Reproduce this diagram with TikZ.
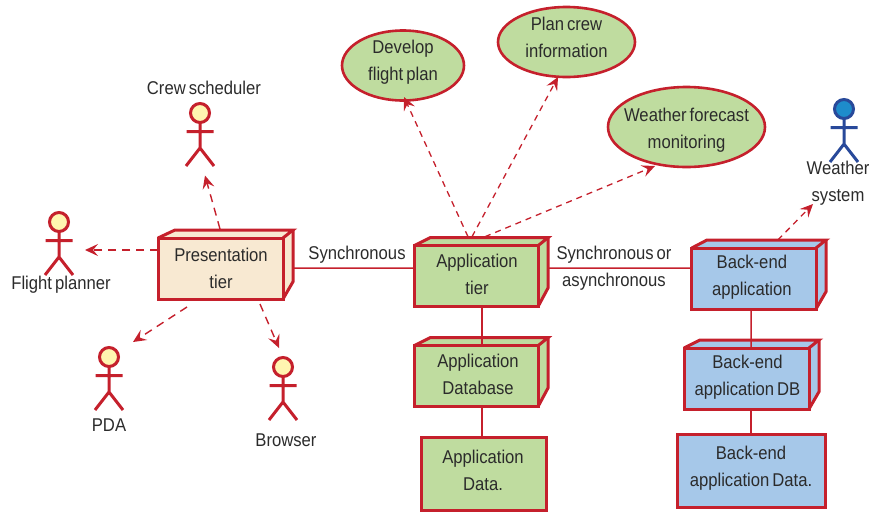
\documentclass[tikz,border=0pt]{standalone}
\usepackage{fontspec}
\setmainfont[FakeStretch=0.90,WordSpace=0.65]{Liberation Sans}
\usetikzlibrary{arrows.meta,shapes.geometric}
\definecolor{rd}{HTML}{C5202C}
\definecolor{cream}{HTML}{F8E9D2}
\definecolor{grn}{HTML}{BFDC9F}
\definecolor{blu}{HTML}{A6C8E9}
\definecolor{yel}{HTML}{FFF5B0}
\definecolor{hblue}{HTML}{1E8CCB}
\definecolor{lblue}{HTML}{28499A}
\definecolor{ink}{HTML}{2B2B2B}
\tikzset{
 lab/.style={font=\fontsize{18.5}{27}\selectfont,text=ink,align=center,inner sep=0pt},
 front/.style={draw=rd,line width=3pt,lab,anchor=north west,inner sep=0pt,outer sep=0pt,align=center},
 side/.style={draw=rd,line width=3pt,line join=miter},
 oval/.style={ellipse,draw=rd,line width=2.6pt,fill=grn,lab,inner sep=0pt,outer sep=0pt},
 dep/.style={draw=rd,line width=1.4pt,dash pattern=on 8pt off 6pt,-{Stealth[length=13pt,width=12pt,inset=5pt]}},
 depfine/.style={dep,line width=1.3pt,dash pattern=on 6pt off 5pt},
 link/.style={draw=rd,line width=1.5pt},
 head/.style={circle,draw=#1,line width=3pt,inner sep=0pt,outer sep=0pt,minimum size=19pt},
 limb/.style={draw=#1,line width=3pt}
}
% one line of a two-line label, zero-sized so that it can be placed exactly
\newcommand{\oneline}[3]{\raisebox{-#2pt}[0pt][0pt]{\makebox[0pt][c]{\hspace*{#1pt}#3}}}
% x offset (doubled), y offset, first line, second line
\newcommand{\twolines}[4]{\oneline{#1}{#2}{#3}\\\oneline{#1}{#2}{#4}}
% name, x1,y1,x2,topleftx,toprightx,side bottom y,colour,text
\newcommand{\tierbox}[9]{%
 \fill[#8] (#2,#3) -- (#5,{#3-8}) -- (#6,{#3-8}) -- (#6,#7) -- (#4,{#3+61}) -- cycle;
 \node[front,fill=#8,minimum width={(#4-#2)*1pt},minimum height=61pt] (#1) at (#2,#3) {#9};
 \draw[side] (#1.north west) -- (#5,{#3-8}) -- (#6,{#3-8}) -- (#1.north east);
 \draw[side] (#6,{#3-8}) -- (#6,#7) -- (#1.south east);
}
% name, head x, head y, fill, line
\newcommand{\stick}[5]{%
 \begin{scope}[shift={(#2,#3)}]
 \node[head=#5,fill=#4] (#1) at (0,0) {};
 \draw[limb=#5] (#1.south) -- (0,35) (-13.5,18.5) -- (13.5,18.5) (-14,53) -- (0,35) -- (14,53);
 \end{scope}
}
\begin{document}
\begin{tikzpicture}[x=1pt,y=-1pt]
\useasboundingbox (0,0) rectangle (883,512);
\tierbox{pres}{158}{238}{283}{175}{293}{281.7}{cream}{\twolines{1}{6.5}{Presentation}{tier}}
\tierbox{app}{414}{245.7}{538}{430}{548}{288}{grn}{\twolines{2}{4.8}{Application}{tier}}
\tierbox{adb}{414}{345.7}{538}{430}{548}{388}{grn}{\twolines{4}{4.8}{Application}{Database}}
\tierbox{be}{691.7}{248}{816}{707}{826}{291.7}{blu}{\twolines{-4}{3.5}{Back-end}{application}}
\tierbox{bdb}{684}{348}{809}{700}{819}{391.7}{blu}{\twolines{2}{3.5}{Back-end}{application DB}}
\node[front,fill=grn,minimum width=125pt,minimum height=73pt] (adata) at (421,437) {\twolines{-1}{3.5}{Application}{Data.}};
\node[front,fill=blu,minimum width=148pt,minimum height=73pt] (bdata) at (677,434) {\twolines{0}{2.5}{Back-end}{application Data.}};
\draw[link] ([shift={(10,-0.5)}]pres.east) -- ([shift={(0,-8)}]app.west);
\draw[link] ([shift={(10,-8)}]app.east) -- ([shift={(0,-10.5)}]be.west);
\draw[link] ([shift={(6,0)}]app.south) -- ([shift={(6,0)}]adb.north);
\draw[link] ([shift={(6,0)}]adb.south) -- ([shift={(-1.5,0)}]adata.north);
\draw[link] ([shift={(-2.85,0)}]be.south) -- ([shift={(4.5,0)}]bdb.north);
\draw[link] ([shift={(4.5,0)}]bdb.south) -- (bdata.north);
\node[oval,minimum width=122pt,minimum height=70pt] (dev) at (403,65.5) {\twolines{0}{1.5}{Develop}{flight plan}};
\node[oval,minimum width=137pt,minimum height=70pt] (crewinfo) at (566.5,42) {\twolines{0}{2}{Plan crew}{information}};
\node[oval,minimum width=157pt,minimum height=80pt] (wf) at (686.5,127) {\twolines{0}{8}{Weather forecast}{monitoring}};
\stick{crew}{200}{113}{yel}{rd}
\stick{fp}{59}{222}{yel}{rd}
\stick{pda}{109}{357}{yel}{rd}
\stick{brow}{283}{367}{yel}{rd}
\stick{ws}{844}{109}{hblue}{lblue}
\node[lab] (lcrew) at (204,88) {Crew scheduler};
\node[lab] (lfp) at (61,285) {Flight planner};
\node[lab] (lpda) at (109,425) {PDA};
\node[lab] (lbrow) at (286,440) {Browser};
\node[lab] (lws) at (838,183) {Weather\\system};
\node[lab] (lsync) at (357,254.5) {Synchronous};
\node[lab] (lasync) at (614,268) {Synchronous or\\asynchronous};
\draw[dep] ([shift={(-0.5,-9)}]pres.north) -- ([shift={(5,53)}]crew.south);
\draw[dep] ([shift={(0,-18.5)}]pres.west) -- ([shift={(26,28)}]fp.center);
\draw[dep] ([shift={(-33.5,8)}]pres.south) -- ([shift={(24,-15)}]pda.center);
\draw[dep] ([shift={(39.5,5)}]pres.south) -- ([shift={(-4,-19)}]brow.center);
\draw[depfine] ([shift={(-8,-9)}]app.north) -- ([shift={(1,-3.5)}]dev.south);
\draw[depfine] ([shift={(-4,-9)}]app.north) -- ([shift={(-8.5,-0)}]crewinfo.south);
\draw[depfine] ([shift={(9,-9)}]app.north) -- ([shift={(-31.5,-1)}]wf.south);
\draw[depfine] ([shift={(24,-8)}]be.north) -- ([shift={(-31,95)}]ws.center);
\end{tikzpicture}
\end{document}
